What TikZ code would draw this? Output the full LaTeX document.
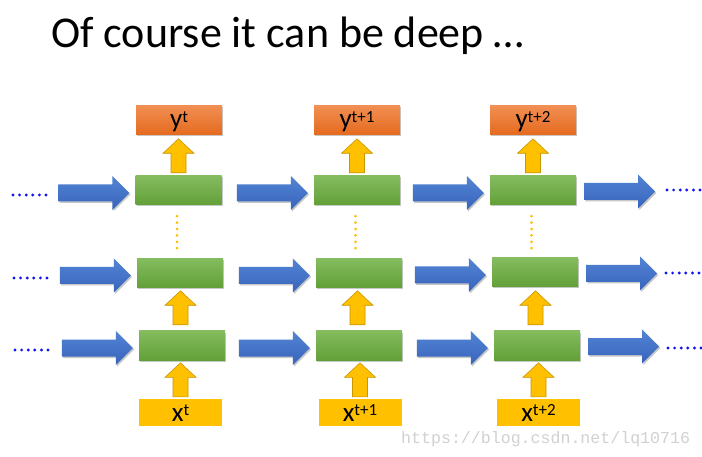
\documentclass[tikz,border=0pt]{standalone}
\usepackage{fontspec}
\setmainfont{Carlito}
\newfontfamily\wmfont{Liberation Mono}
\usetikzlibrary{shadows,calc}
\definecolor{gtop}{RGB}{132,188,94}
\definecolor{gbot}{RGB}{98,160,56}
\definecolor{otop}{RGB}{241,142,82}
\definecolor{obot}{RGB}{228,106,30}
\definecolor{btop}{RGB}{82,132,212}
\definecolor{bbot}{RGB}{56,100,188}
\definecolor{yel}{RGB}{255,192,0}
\definecolor{yeldraw}{RGB}{200,150,0}
\definecolor{dotblue}{RGB}{20,20,240}
\newcommand\supx[1]{\raisebox{5.5pt}{\fontsize{17}{17}\selectfont #1}}
\tikzset{
  softshadow/.style={drop shadow={shadow xshift=1.2pt,shadow yshift=-1.5pt,opacity=0.22,fill=black}},
  cell/.style={rectangle, inner sep=0pt, minimum width=86pt, minimum height=29pt,
    top color=gtop, bottom color=gbot, softshadow},
  outbox/.style={rectangle, inner sep=0pt, minimum width=86pt, minimum height=29pt,
    text height=19pt, text depth=4pt,
    top color=otop, bottom color=obot, softshadow, font=\fontsize{27}{27}\selectfont},
  inbox/.style={rectangle, inner sep=0pt, minimum width=83pt, minimum height=27pt,
    text height=17pt, text depth=0pt,
    fill=yel, font=\fontsize{27}{27}\selectfont},
  harr/.pic={\path[top color=btop, bottom color=bbot, softshadow]
     (0,0) -- (-17,17) -- (-17,8.5) -- (-71,8.5) -- (-71,-8.5) -- (-17,-8.5) -- (-17,-17) -- cycle;},
  uarr/.pic={\path[fill=yel, draw=yeldraw, line width=0.6pt]
     (-7.5,0) -- (-7.5,19.5) -- (-15.5,19.5) -- (0,34) -- (15.5,19.5) -- (7.5,19.5) -- (7.5,0) -- cycle;},
  hdot/.style={fill=dotblue},
  vdot/.style={fill=yel}
}
\begin{document}
\begin{tikzpicture}[x=1pt,y=1pt]
\useasboundingbox (0,0) rectangle (702,-457);
\fill[white] (0,0) rectangle (702,-457);

% title
\node[anchor=base west, inner sep=0pt, font=\fontsize{44}{44}\selectfont] (title) at (51,-48) {Of course it can be deep …};

% output boxes
\node[outbox] (o1) at (179,-120.5) {y\supx{t}};
\node[outbox] (o2) at (357,-120.5) {y\supx{t+1}};
\node[outbox] (o3) at (533,-120.5) {y\supx{t+2}};

% cells
\node[cell] (c11) at (178.5,-190.5) {};
\node[cell] (c12) at (357,-190.5) {};
\node[cell] (c13) at (533,-190.5) {};
\node[cell] (c21) at (180,-273) {};
\node[cell] (c22) at (359,-273) {};
\node[cell] (c23) at (535,-272.5) {};
\node[cell] (c31) at (182,-345.5) {};
\node[cell] (c32) at (359,-345.5) {};
\node[cell] (c33) at (537,-345.5) {};

% input boxes
\node[inbox] (i1) at (180.5,-412.5) {x\supx{t}};
\node[inbox] (i2) at (360,-412.5) {x\supx{t+1}};
\node[inbox] (i3) at (538.5,-412.5) {x\supx{t+2}};

% up arrows
\foreach \n in {1,2,3}{
  \path (i\n.north) ++(0,2) pic {uarr};
  \path (c3\n.north) ++(-1.5,6) pic {uarr};
  \path (c1\n.north) ++(0,3) pic {uarr};
}

% horizontal arrows into cells
\foreach \r in {1,2,3}{
  \foreach \c in {1,2,3}{
    \path (c\r\c.west) ++(-6,-2.5) pic {harr};
  }
  \path (c\r3.east) ++(79,-1) pic {harr};
}

% blue dots
\foreach \y/\xl in {195/13, 278/14, 350/15}{
  \foreach \i in {0,...,5}{
    \fill[hdot] (\xl+\i*6.6,-\y) circle (1.6);
  }
}
\foreach \y/\xr in {190/667, 273/666, 348/668}{
  \foreach \i in {0,...,5}{
    \fill[hdot] (\xr+\i*6.6,-\y) circle (1.6);
  }
}

% vertical dots
\foreach \n in {1,2,3}{
  \foreach \i in {0,...,5}{
    \fill[vdot] ($(c1\n.south)+(-1.5,-11-\i*6.4)$) circle (1.5);
  }
}

% watermark
\node[anchor=base west, inner sep=0pt, text=black!18, font=\wmfont\fontsize{16.6}{16.6}\selectfont] (wm) at (401,-443) {https://blog.csdn.net/lq10716};
\end{tikzpicture}
\end{document}
